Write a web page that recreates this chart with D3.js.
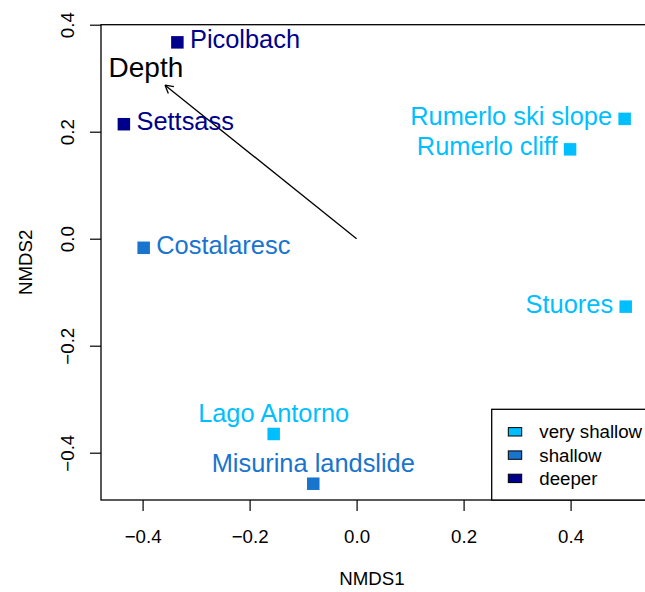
<!DOCTYPE html>
<html>
<head>
<meta charset="utf-8">
<script src="https://cdn.jsdelivr.net/npm/d3@7"></script>
<style>
  html, body { margin: 0; padding: 0; background: #fff; }
  svg { display: block; font-family: "Liberation Sans", Arial, Helvetica, sans-serif; }
</style>
</head>
<body>
<svg id="chart" width="645" height="592"></svg>
<script>
// NMDS site scores
const sites = ["Picolbach", "Settsass", "Costalaresc", "Rumerlo ski slope", "Rumerlo cliff",
               "Stuores", "Lago Antorno", "Misurina landslide"];
const nmds1 = [-0.335, -0.435, -0.398, 0.501, 0.399, 0.503, -0.155, -0.081];
const nmds2 = [0.367, 0.214, -0.017, 0.224, 0.167, -0.127, -0.365, -0.458];
const depthClass = ["deeper", "deeper", "shallow", "very shallow", "very shallow",
                    "very shallow", "very shallow", "shallow"];
// label side relative to the point: 4 = right, 2 = left, 3 = above
const labelPos = [4, 4, 4, 2, 2, 2, 3, 3];

// fitted environmental vector
const vectorName = "Depth";
const vectorEnd = [-0.358, 0.287];
const vectorLabelScale = 1.1;

// legend / colour classes
const classes = ["very shallow", "shallow", "deeper"];
const classColors = ["#00BFFF", "#1874CD", "#00008B"];

const xTicks = [-0.4, -0.2, 0.0, 0.2, 0.4];
const yTicks = [-0.4, -0.2, 0.0, 0.2, 0.4];

const svg = d3.select("#chart");

// plotting region (right edge extends past the visible page)
const plot = { left: 101, top: 24.7, right: 700, bottom: 500 };

const x = d3.scaleLinear().domain([-0.4, 0.4]).range([142.6, 570.6]);
const y = d3.scaleLinear().domain([-0.4, 0.4]).range([452.7, 24.7]);
const color = d3.scaleOrdinal().domain(classes).range(classColors);

const fmt = d3.format(".1f");
const fs = 18.7;      // axis / legend text size
const labFs = 25.4;   // site label size
const vecFs = 28;     // vector label size

// axes
const xAxis = d3.axisBottom(x).tickValues(xTicks).tickSize(11).tickFormat(fmt);
const gx = svg.append("g").attr("transform", `translate(0,${plot.bottom})`).call(xAxis);
gx.select(".domain").remove();
gx.selectAll(".tick line").attr("stroke", "#000").attr("stroke-width", 1.2);
gx.selectAll(".tick text")
  .attr("y", 42.6).attr("dy", null)
  .attr("font-size", fs).attr("fill", "#000");

const yAxis = d3.axisLeft(y).tickValues(yTicks).tickSize(11).tickFormat(fmt);
const gy = svg.append("g").attr("transform", `translate(${plot.left},0)`).call(yAxis);
gy.select(".domain").remove();
gy.selectAll(".tick line").attr("stroke", "#000").attr("stroke-width", 1.2);
gy.selectAll(".tick text")
  .attr("x", null).attr("dy", null)
  .attr("text-anchor", "middle")
  .attr("transform", "translate(-27.4,0) rotate(-90)")
  .attr("font-size", fs).attr("fill", "#000");
svg.selectAll("g").attr("font-family", null).attr("font-size", null);

// plot box
svg.append("rect")
  .attr("x", plot.left).attr("y", plot.top)
  .attr("width", plot.right - plot.left).attr("height", plot.bottom - plot.top)
  .attr("fill", "none").attr("stroke", "#000").attr("stroke-width", 1.3);

// axis titles
svg.append("text").attr("x", (plot.left + 643) / 2).attr("y", 584.6)
  .attr("text-anchor", "middle").attr("font-size", fs).text("NMDS1");
svg.append("text")
  .attr("transform", `translate(31.6,${(plot.top + plot.bottom) / 2}) rotate(-90)`)
  .attr("text-anchor", "middle").attr("font-size", fs).text("NMDS2");

// environmental vector arrow
const x0 = x(0), y0 = y(0);
const x1 = x(vectorEnd[0]), y1 = y(vectorEnd[1]);
svg.append("line").attr("x1", x0).attr("y1", y0).attr("x2", x1).attr("y2", y1)
  .attr("stroke", "#000").attr("stroke-width", 1.3);
const ang = Math.atan2(y1 - y0, x1 - x0);
const headLen = 9, headAng = Math.PI / 6;
[-1, 1].forEach(s => {
  svg.append("line")
    .attr("x1", x1).attr("y1", y1)
    .attr("x2", x1 - headLen * Math.cos(ang + s * headAng))
    .attr("y2", y1 - headLen * Math.sin(ang + s * headAng))
    .attr("stroke", "#000").attr("stroke-width", 1.3);
});
svg.append("text")
  .attr("x", x(vectorEnd[0] * vectorLabelScale))
  .attr("y", y(vectorEnd[1] * vectorLabelScale) + 0.27 * vecFs)
  .attr("text-anchor", "middle").attr("font-size", vecFs).attr("fill", "#000")
  .text(vectorName);

// site points
const data = sites.map((s, i) => ({
  name: s, x: nmds1[i], y: nmds2[i], cls: depthClass[i], pos: labelPos[i]
}));
const sq = 12.5;
svg.append("g").selectAll("rect").data(data).join("rect")
  .attr("x", d => x(d.x) - sq / 2).attr("y", d => y(d.y) - sq / 2)
  .attr("width", sq).attr("height", sq)
  .attr("fill", d => color(d.cls));

// site labels
const off = 12.6;
svg.append("g").selectAll("text").data(data).join("text")
  .attr("font-size", labFs)
  .attr("fill", d => color(d.cls))
  .attr("text-anchor", d => d.pos === 4 ? "start" : d.pos === 2 ? "end" : "middle")
  .attr("x", d => x(d.x) + (d.pos === 4 ? off : d.pos === 2 ? -off : 0))
  .attr("y", d => d.pos === 3 ? y(d.y) - 12 : y(d.y) + 6)
  .text(d => d.name);

// legend (bottom right)
const lg = { left: 491.7, top: 409.3 };
svg.append("rect")
  .attr("x", lg.left).attr("y", lg.top)
  .attr("width", plot.right - lg.left).attr("height", plot.bottom - lg.top)
  .attr("fill", "#fff").attr("stroke", "#000").attr("stroke-width", 1.3);
const rowY = d3.scalePoint().domain(classes).range([431.8, 478.4]);
const items = svg.append("g").selectAll("g").data(classes).join("g");
items.append("rect")
  .attr("x", 508.3).attr("y", d => rowY(d) - 4.2)
  .attr("width", 13.4).attr("height", 8.4)
  .attr("fill", d => color(d)).attr("stroke", "#000").attr("stroke-width", 1);
items.append("text")
  .attr("x", 539.3).attr("y", d => rowY(d) + 6.6)
  .attr("font-size", fs).attr("fill", "#000")
  .text(d => d);
</script>
</body>
</html>
